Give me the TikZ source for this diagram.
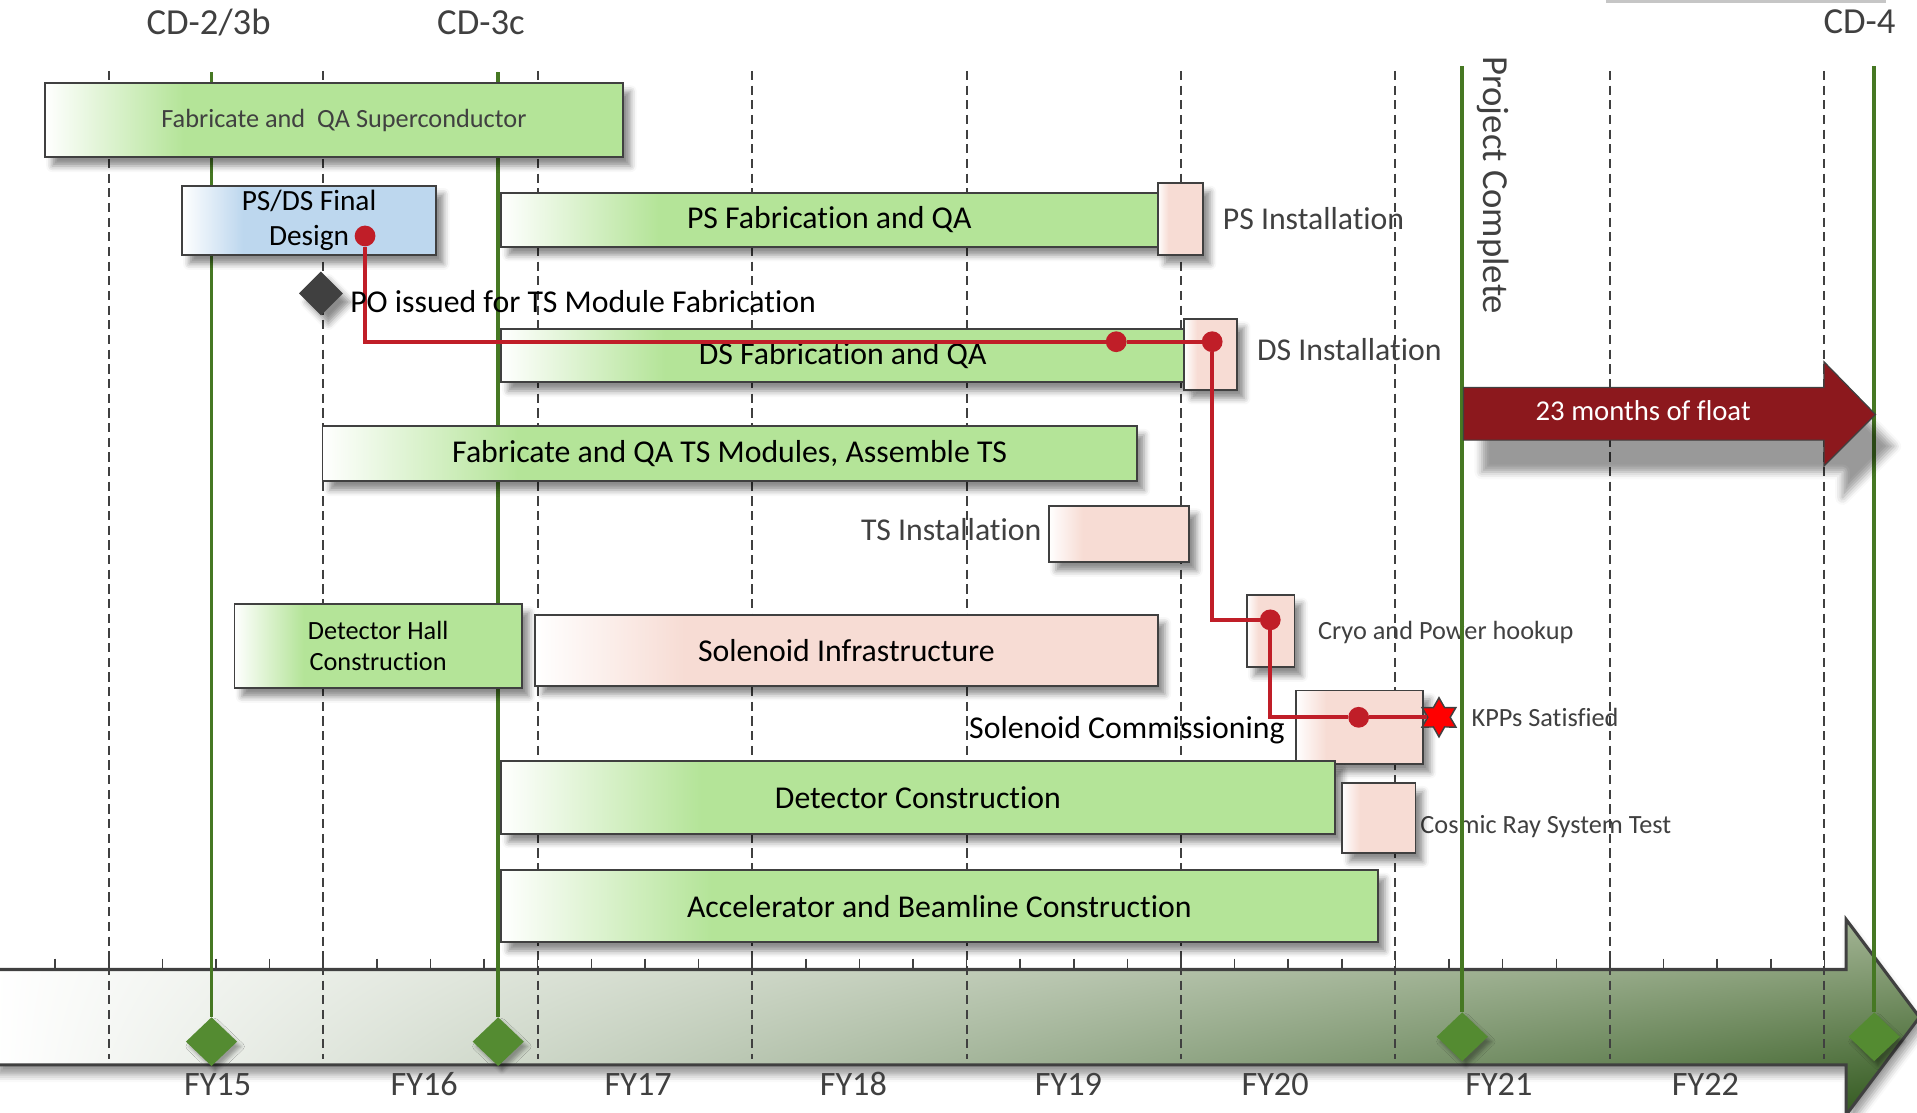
\documentclass[tikz,border=0pt]{standalone}
\usepackage{fontspec}
\setmainfont{Carlito}[Ligatures=NoCommon]
\usetikzlibrary{shapes.geometric,shadows.blur,shadings}

\definecolor{bargreen}{RGB}{180,228,152}
\definecolor{barpink}{RGB}{247,220,212}
\definecolor{barblue}{RGB}{189,215,238}
\definecolor{edgegray}{RGB}{64,64,64}
\definecolor{milegreen}{RGB}{70,120,35}
\definecolor{milefill}{RGB}{84,139,49}
\definecolor{critred}{RGB}{192,30,40}
\definecolor{floatred}{RGB}{140,24,29}
\definecolor{axislight}{RGB}{160,178,145}
\definecolor{axisdark}{RGB}{45,85,25}

\pgfdeclarehorizontalshading{greenfade}{100bp}{color(0bp)=(white); color(25bp)=(white); color(37bp)=(bargreen); color(100bp)=(bargreen)}
\pgfdeclarehorizontalshading{pinkfade}{100bp}{color(0bp)=(white); color(25bp)=(white); color(37bp)=(barpink); color(100bp)=(barpink)}
\pgfdeclarehorizontalshading{bluefade}{100bp}{color(0bp)=(white); color(25bp)=(white); color(37bp)=(barblue); color(100bp)=(barblue)}

\newcommand{\txtbig}{\fontsize{26}{30}\selectfont}
\newcommand{\txtmid}{\fontsize{23.5}{28}\selectfont}
\newcommand{\txtsmall}{\fontsize{21.5}{26}\selectfont}
\newcommand{\txthead}{\fontsize{30}{34}\selectfont}

\tikzset{
  boxshadow/.style={blur shadow={shadow xshift=6pt, shadow yshift=-7pt, shadow blur radius=5pt, shadow opacity=45}},
  task/.style={draw=edgegray, line width=1.6pt, inner sep=0pt, anchor=north west, align=center, font=\txtbig, boxshadow},
  greentask/.style={task, shade, shading=greenfade},
  pinktask/.style={task, shade, shading=pinkfade},
  bluetask/.style={task, shade, shading=bluefade},
  yearline/.style={edgegray, line width=1.6pt, dash pattern=on 7.5pt off 4.5pt},
  mileline/.style={milegreen, line width=3pt},
  milestone/.style={diamond, fill=milefill, minimum width=42pt, minimum height=40pt, inner sep=0pt,
    blur shadow={shadow xshift=3pt, shadow yshift=-4pt, shadow blur radius=3pt, shadow opacity=35}},
  critdot/.style={circle, fill=critred, minimum size=17pt, inner sep=0pt},
  critpath/.style={critred, line width=3.6pt},
  graylabel/.style={text=edgegray, font=\txtbig, inner sep=0pt},
  smalllabel/.style={text=edgegray, font=\txtsmall, inner sep=0pt},
  blacklabel/.style={font=\txtbig, inner sep=0pt},
  headlabel/.style={text=edgegray, font=\txthead, inner sep=0pt, anchor=base},
  fylabel/.style={text=edgegray, font=\fontsize{28}{32}\selectfont, inner sep=0pt, anchor=base},
}

\begin{document}
\begin{tikzpicture}[x=1pt,y=-1pt]
    \useasboundingbox (0,0) rectangle (1568,910);

    % time axis
    \shade[draw=edgegray, line width=2.5pt, upper left=white, lower left=white, upper right=axislight, lower right=axisdark,
      blur shadow={shadow xshift=3pt, shadow yshift=-8pt, shadow blur radius=6pt, shadow opacity=40}]
      (-5,793) -- (1510,793) -- (1510,752) -- (1570,832) -- (1510,912) -- (1510,871) -- (-5,871) -- cycle;
    \foreach \k in {-1,...,32}
      \draw[edgegray, line width=1.3pt] (89+43.85*\k,784) -- (89+43.85*\k,793);
    \foreach \x/\yr in {178/15,347/16,522/17,698/18,874/19,1043/20,1226/21,1395/22}
      \node[fylabel] (fy\yr) at (\x,896) {FY\yr};
    \fill[gray!45] (1314,0) rectangle (1543,2.5);

    % milestone names
    \node[headlabel] (cdtwo) at (170.6,28) {CD-2/3b};
    \node[headlabel] (cdthree) at (393.4,28) {CD-3c};
    \node[headlabel] (cdfour) at (1521,27) {CD-4};
    \node[text=edgegray, font=\txthead, inner sep=0pt, rotate=-90, anchor=base west] (projdone) at (1213,46) {Project Complete};

    % side labels
    \node[graylabel, anchor=base west] (psinstlbl) at (1000,188) {PS Installation};
    \node[graylabel, anchor=base west] (dsinstlbl) at (1028,294.5) {DS Installation};
    \node[graylabel, anchor=base east] (tsinstlbl) at (852,441.7) {TS Installation};
    \node[smalllabel, anchor=base west] (cryolbl) at (1078,523) {Cryo and Power hookup};
    \node[blacklabel, anchor=base east] (commlbl) at (1051,604) {Solenoid Commissioning};
    \node[smalllabel, anchor=base west] (kpplbl) at (1203.5,594) {KPPs Satisfied};
    \node[smalllabel, anchor=base west] (cosmiclbl) at (1161.6,682) {Cosmic Ray System Test};

    % fiscal year lines
    \foreach \k in {0,...,8}
      \draw[yearline] (89+175.4*\k,58) -- (89+175.4*\k,866);

    % milestones
    \node[milestone] (mtwo) at (173,852) {};
    \node[milestone] (mthree) at (407.5,852) {};
    \node[milestone] (mdone) at (1196,848) {};
    \node[milestone] (mfour) at (1533,848) {};
    \coordinate (mtwotop) at (173,59);
    \coordinate (mthreetop) at (407.5,59);
    \coordinate (mdonetop) at (1196,54);
    \coordinate (mfourtop) at (1533,54);
    \draw[mileline] (mtwotop) -- (mtwo);
    \draw[mileline] (mthreetop) -- (mthree);
    \draw[mileline] (mdonetop) -- (mdone);
    \draw[mileline] (mfourtop) -- (mfour);

    % tasks
    \node[greentask, text=edgegray, font=\txtsmall, minimum width=473pt, minimum height=61pt] (supercond) at (36,67) {\hspace*{16pt}Fabricate and\ \ QA Superconductor};
    \node[bluetask, font=\fontsize{24}{28}\selectfont, minimum width=208pt, minimum height=57pt] (psdsdesign) at (148,151) {PS/DS Final\\Design};
    \node[greentask, minimum width=537pt, minimum height=44pt] (psfab) at (409,157) {PS Fabrication and QA};
    \node[pinktask, minimum width=37pt, minimum height=59pt] (psinst) at (946,149) {};
    \node[greentask, minimum width=559pt, minimum height=44pt] (dsfab) at (409,268) {DS Fabrication and QA};
    \node[pinktask, minimum width=43pt, minimum height=58pt] (dsinst) at (968,260) {};
    \node[greentask, minimum width=666pt, minimum height=45pt] (tsfab) at (263,348) {Fabricate and QA TS Modules, Assemble TS};
    \node[pinktask, minimum width=115pt, minimum height=46pt] (tsinst) at (857,413) {};
    \node[greentask, font=\txtsmall, minimum width=235pt, minimum height=69pt] (dethall) at (191,493) {Detector Hall\\Construction};
    \node[pinktask, minimum width=509pt, minimum height=58pt] (soleninfra) at (437,502) {Solenoid Infrastructure};
    \node[pinktask, minimum width=39pt, minimum height=59pt] (cryo) at (1019,486) {};
    \node[pinktask, minimum width=104pt, minimum height=60pt] (solencomm) at (1059,564) {};
    \node[greentask, minimum width=682pt, minimum height=59pt] (detcons) at (409,622) {Detector Construction};
    \node[pinktask, minimum width=60pt, minimum height=57pt] (cosmic) at (1097,640) {};
    \node[greentask, minimum width=717pt, minimum height=59pt] (accel) at (409,711) {Accelerator and Beamline Construction};

    % float
    \fill[floatred, draw=edgegray, line width=1pt,
      blur shadow={shadow xshift=15pt, shadow yshift=-26pt, shadow blur radius=6pt, shadow opacity=40}]
      (1197,317) -- (1492,317) -- (1492,296) -- (1534,339) -- (1492,381) -- (1492,360) -- (1197,360) -- cycle;
    \node[text=white, font=\txtmid, inner sep=0pt, anchor=base] (floattxt) at (1344,344) {23 months of float};

    % critical path
    \node[critdot] (psdsdot) at (298.6,193) {};
    \node[critdot] (dsfabdot) at (913,279.5) {};
    \node[critdot] (dsinstdot) at (991.5,279.5) {};
    \node[critdot] (cryodot) at (1039,507) {};
    \node[critdot] (commdot) at (1111.3,586.7) {};
    \node[star, star points=6, star point ratio=1.75, minimum size=32pt, inner sep=0pt, fill=red, draw=edgegray, line width=1.2pt] (kpp) at (1177,586.7) {};
    \draw[critpath] (psdsdot) |- (dsfabdot) -- (dsinstdot) |- (cryodot) |- (commdot) -- (kpp);

    \node[diamond, fill=edgegray, minimum width=36pt, minimum height=36pt, inner sep=0pt, boxshadow] (podiam) at (262.5,240) {};
    \node[blacklabel, anchor=base west] (polbl) at (286.3,255.5) {PO issued for TS Module Fabrication};
\end{tikzpicture}
\end{document}
